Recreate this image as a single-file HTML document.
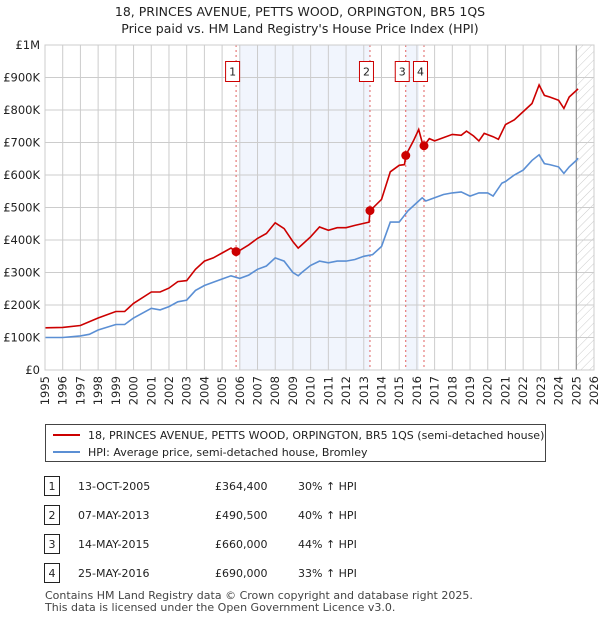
<!DOCTYPE html>
<html><head><meta charset="utf-8"><style>
body{margin:0;background:#fff;font-family:"Liberation Sans","DejaVu Sans",sans-serif;}
svg text{font-family:"DejaVu Sans","Liberation Sans",sans-serif;}
</style></head><body>
<svg width="600" height="620" xmlns="http://www.w3.org/2000/svg">
<defs><pattern id="hatch" width="6" height="6" patternUnits="userSpaceOnUse" patternTransform="rotate(45)"><line x1="0" y1="0" x2="0" y2="6" stroke="#ccc" stroke-width="1"/></pattern></defs>
<text x="300" y="16" text-anchor="middle" font-size="12.5" fill="#222">18, PRINCES AVENUE, PETTS WOOD, ORPINGTON, BR5 1QS</text>
<text x="300" y="33" text-anchor="middle" font-size="12.5" fill="#222">Price paid vs. HM Land Registry's House Price Index (HPI)</text>
<g id="bg"></g><g id="grid"></g><g id="series"></g><g id="ax"></g>
<g>
<rect x="45.5" y="424.5" width="500" height="37" fill="#fff" stroke="#444"/>
<line x1="53" y1="435" x2="80" y2="435" stroke="#cc0000" stroke-width="2"/>
<text x="88" y="439" font-size="11" fill="#222">18, PRINCES AVENUE, PETTS WOOD, ORPINGTON, BR5 1QS (semi-detached house)</text>
<line x1="53" y1="452" x2="80" y2="452" stroke="#5b8fd4" stroke-width="2"/>
<text x="88" y="456" font-size="11" fill="#222">HPI: Average price, semi-detached house, Bromley</text>
</g>
<g id="table" font-size="11" fill="#222"></g>
<text x="45" y="599" font-size="11" fill="#444">Contains HM Land Registry data © Crown copyright and database right 2025.</text>
<text x="45" y="611" font-size="11" fill="#444">This data is licensed under the Open Government Licence v3.0.</text>
</svg>
<script>
const hpiYears=[1995,1996,1997,1997.5,1998,1999,1999.5,2000,2001,2001.5,2002,2002.5,2003,2003.5,2004,2004.5,2005,2005.5,2006,2006.5,2007,2007.5,2008,2008.5,2009,2009.3,2009.5,2010,2010.5,2011,2011.5,2012,2012.5,2013,2013.5,2014,2014.5,2015,2015.5,2016,2016.3,2016.5,2017,2017.5,2018,2018.5,2019,2019.5,2020,2020.3,2020.8,2021,2021.5,2022,2022.5,2022.9,2023.2,2023.5,2024,2024.3,2024.6,2025,2025.1];
const hpiValues=[100,100,105,110,123,140,140,160,190,185,195,210,215,245,260,270,280,290,282,292,310,320,345,335,300,290,300,322,335,330,335,335,340,350,355,380,455,455,490,515,530,520,530,540,545,548,535,545,545,535,575,580,600,615,645,662,635,632,625,605,625,645,652];
const redYears=[1995,1996,1997,1998,1999,1999.5,2000,2001,2001.5,2002,2002.5,2003,2003.5,2004,2004.5,2005,2005.5,2005.79,2006,2006.5,2007,2007.5,2008,2008.5,2009,2009.3,2009.5,2010,2010.5,2011,2011.5,2012,2012.5,2013.3,2013.35,2014,2014.5,2015,2015.3,2015.37,2015.8,2016.1,2016.3,2016.4,2016.7,2017,2017.5,2018,2018.5,2018.8,2019.2,2019.5,2019.8,2020.3,2020.6,2021,2021.5,2022,2022.5,2022.9,2023.2,2023.5,2024,2024.3,2024.6,2025.1];
const redValues=[130,131,137,160,180,180,205,240,240,252,272,275,310,335,345,360,375,364,368,385,405,420,453,435,395,375,385,410,440,430,438,438,445,455,490,525,610,630,632,660,705,740,700,690,712,705,715,725,722,735,720,705,728,718,710,755,770,795,820,877,845,840,830,805,840,865];
const saleLabels=["1","2","3","4"];
const saleYears=[2005.79,2013.35,2015.37,2016.4];
const saleValues=[364.4,490.5,660,690];
const saleDates=["13-OCT-2005","07-MAY-2013","14-MAY-2015","25-MAY-2016"];
const salePrices=["£364,400","£490,500","£660,000","£690,000"];
const salePcts=["30% ↑ HPI","40% ↑ HPI","44% ↑ HPI","33% ↑ HPI"];
const yTicks=[0,100,200,300,400,500,600,700,800,900,1000];
const yTickLabels=["£0","£100K","£200K","£300K","£400K","£500K","£600K","£700K","£800K","£900K","£1M"];
const xTicks=[1995,1996,1997,1998,1999,2000,2001,2002,2003,2004,2005,2006,2007,2008,2009,2010,2011,2012,2013,2014,2015,2016,2017,2018,2019,2020,2021,2022,2023,2024,2025,2026];
const X0=45,X1=594,Y0=370,Y1=45;
const x=v=>X0+(v-1995)/(31)*(X1-X0);
const y=v=>Y0-v/1000*(Y0-Y1);
const NS="http://www.w3.org/2000/svg";
function mk(p,t,a){const e=document.createElementNS(NS,t);for(const k in a)e.setAttribute(k,a[k]);p.appendChild(e);return e;}
const bg=document.getElementById('bg'),grid=document.getElementById('grid'),ser=document.getElementById('series'),ax=document.getElementById('ax'),tb=document.getElementById('table');
let r=mk(bg,'rect',{x:x(saleYears[0])+3,y:Y1,width:x(saleYears[1])-x(saleYears[0])-3,height:Y0-Y1,fill:'#eef3fc',opacity:0.8});


r=mk(bg,'rect',{x:x(saleYears[2]),y:Y1,width:x(saleYears[3])-x(saleYears[2])-5,height:Y0-Y1,fill:'#eef3fc',opacity:0.8});


r=mk(bg,'rect',{x:x(2025),y:Y1,width:X1-x(2025),height:Y0-Y1,fill:'url(#hatch)'});


yTicks.forEach((v,i)=>{
 mk(grid,'line',{x1:X0,x2:X1,y1:y(v),y2:y(v),stroke:'#ccc','stroke-width':1});
 const t=mk(ax,'text',{x:40,y:y(v)+4,'text-anchor':'end','font-size':11.5,fill:'#222'});t.textContent=yTickLabels[i];
 
 
});
xTicks.forEach(v=>{
 mk(grid,'line',{x1:x(v),x2:x(v),y1:Y1,y2:Y0,stroke:'#ccc','stroke-width':1});
 const t=mk(ax,'text',{x:0,y:0,'text-anchor':'end','font-size':11.5,fill:'#222',transform:`translate(${x(v)+4},376) rotate(-90)`});t.textContent=v;
 
 
});
mk(grid,'line',{x1:x(2025),x2:x(2025),y1:Y1,y2:Y0,stroke:'#888','stroke-width':1});
saleYears.forEach((v,i)=>{
 mk(ser,'line',{x1:x(v),x2:x(v),y1:Y1,y2:Y0,stroke:'#e06060','stroke-width':1,'stroke-dasharray':'2,3'});
});
const pts=(xs,vs)=>xs.map((a,i)=>x(a).toFixed(1)+','+y(vs[i]).toFixed(1)).join(' ');
let p=mk(ser,'polyline',{points:pts(hpiYears,hpiValues),fill:'none',stroke:'#5b8fd4','stroke-width':1.6});


p=mk(ser,'polyline',{points:pts(redYears,redValues),fill:'none',stroke:'#cc0000','stroke-width':1.6});


saleYears.forEach((v,i)=>{
 const c=mk(ser,'circle',{cx:x(v),cy:y(saleValues[i]),r:4.5,fill:'#cc0000'});
 
 
 const bx=x(v)-3.5-7;
 const b=mk(ser,'rect',{x:bx,y:61.5,width:14,height:20,fill:'#fff',stroke:'#cc0000'});
 
 
 const t=mk(ser,'text',{x:bx+7,y:75.5,'text-anchor':'middle','font-size':11,fill:'#222'});t.textContent=saleLabels[i];
});
mk(ax,'rect',{x:X0,y:Y1,width:X1-X0,height:Y0-Y1,fill:'none',stroke:'#ccc'});
saleLabels.forEach((l,i)=>{
 const yy=487+i*29;
 const b=mk(tb,'rect',{x:44.5,y:yy-10.5,width:15,height:19,fill:'#fff',stroke:'#222'});
 
 
 let t=mk(tb,'text',{x:52,y:yy+3,'text-anchor':'middle'});t.textContent=l;
 t=mk(tb,'text',{x:78,y:yy+3});t.textContent=saleDates[i];
 
 
 t=mk(tb,'text',{x:215,y:yy+3});t.textContent=salePrices[i];
 
 
 t=mk(tb,'text',{x:298,y:yy+3});t.textContent=salePcts[i];
 
 
});
</script>
</body></html>
